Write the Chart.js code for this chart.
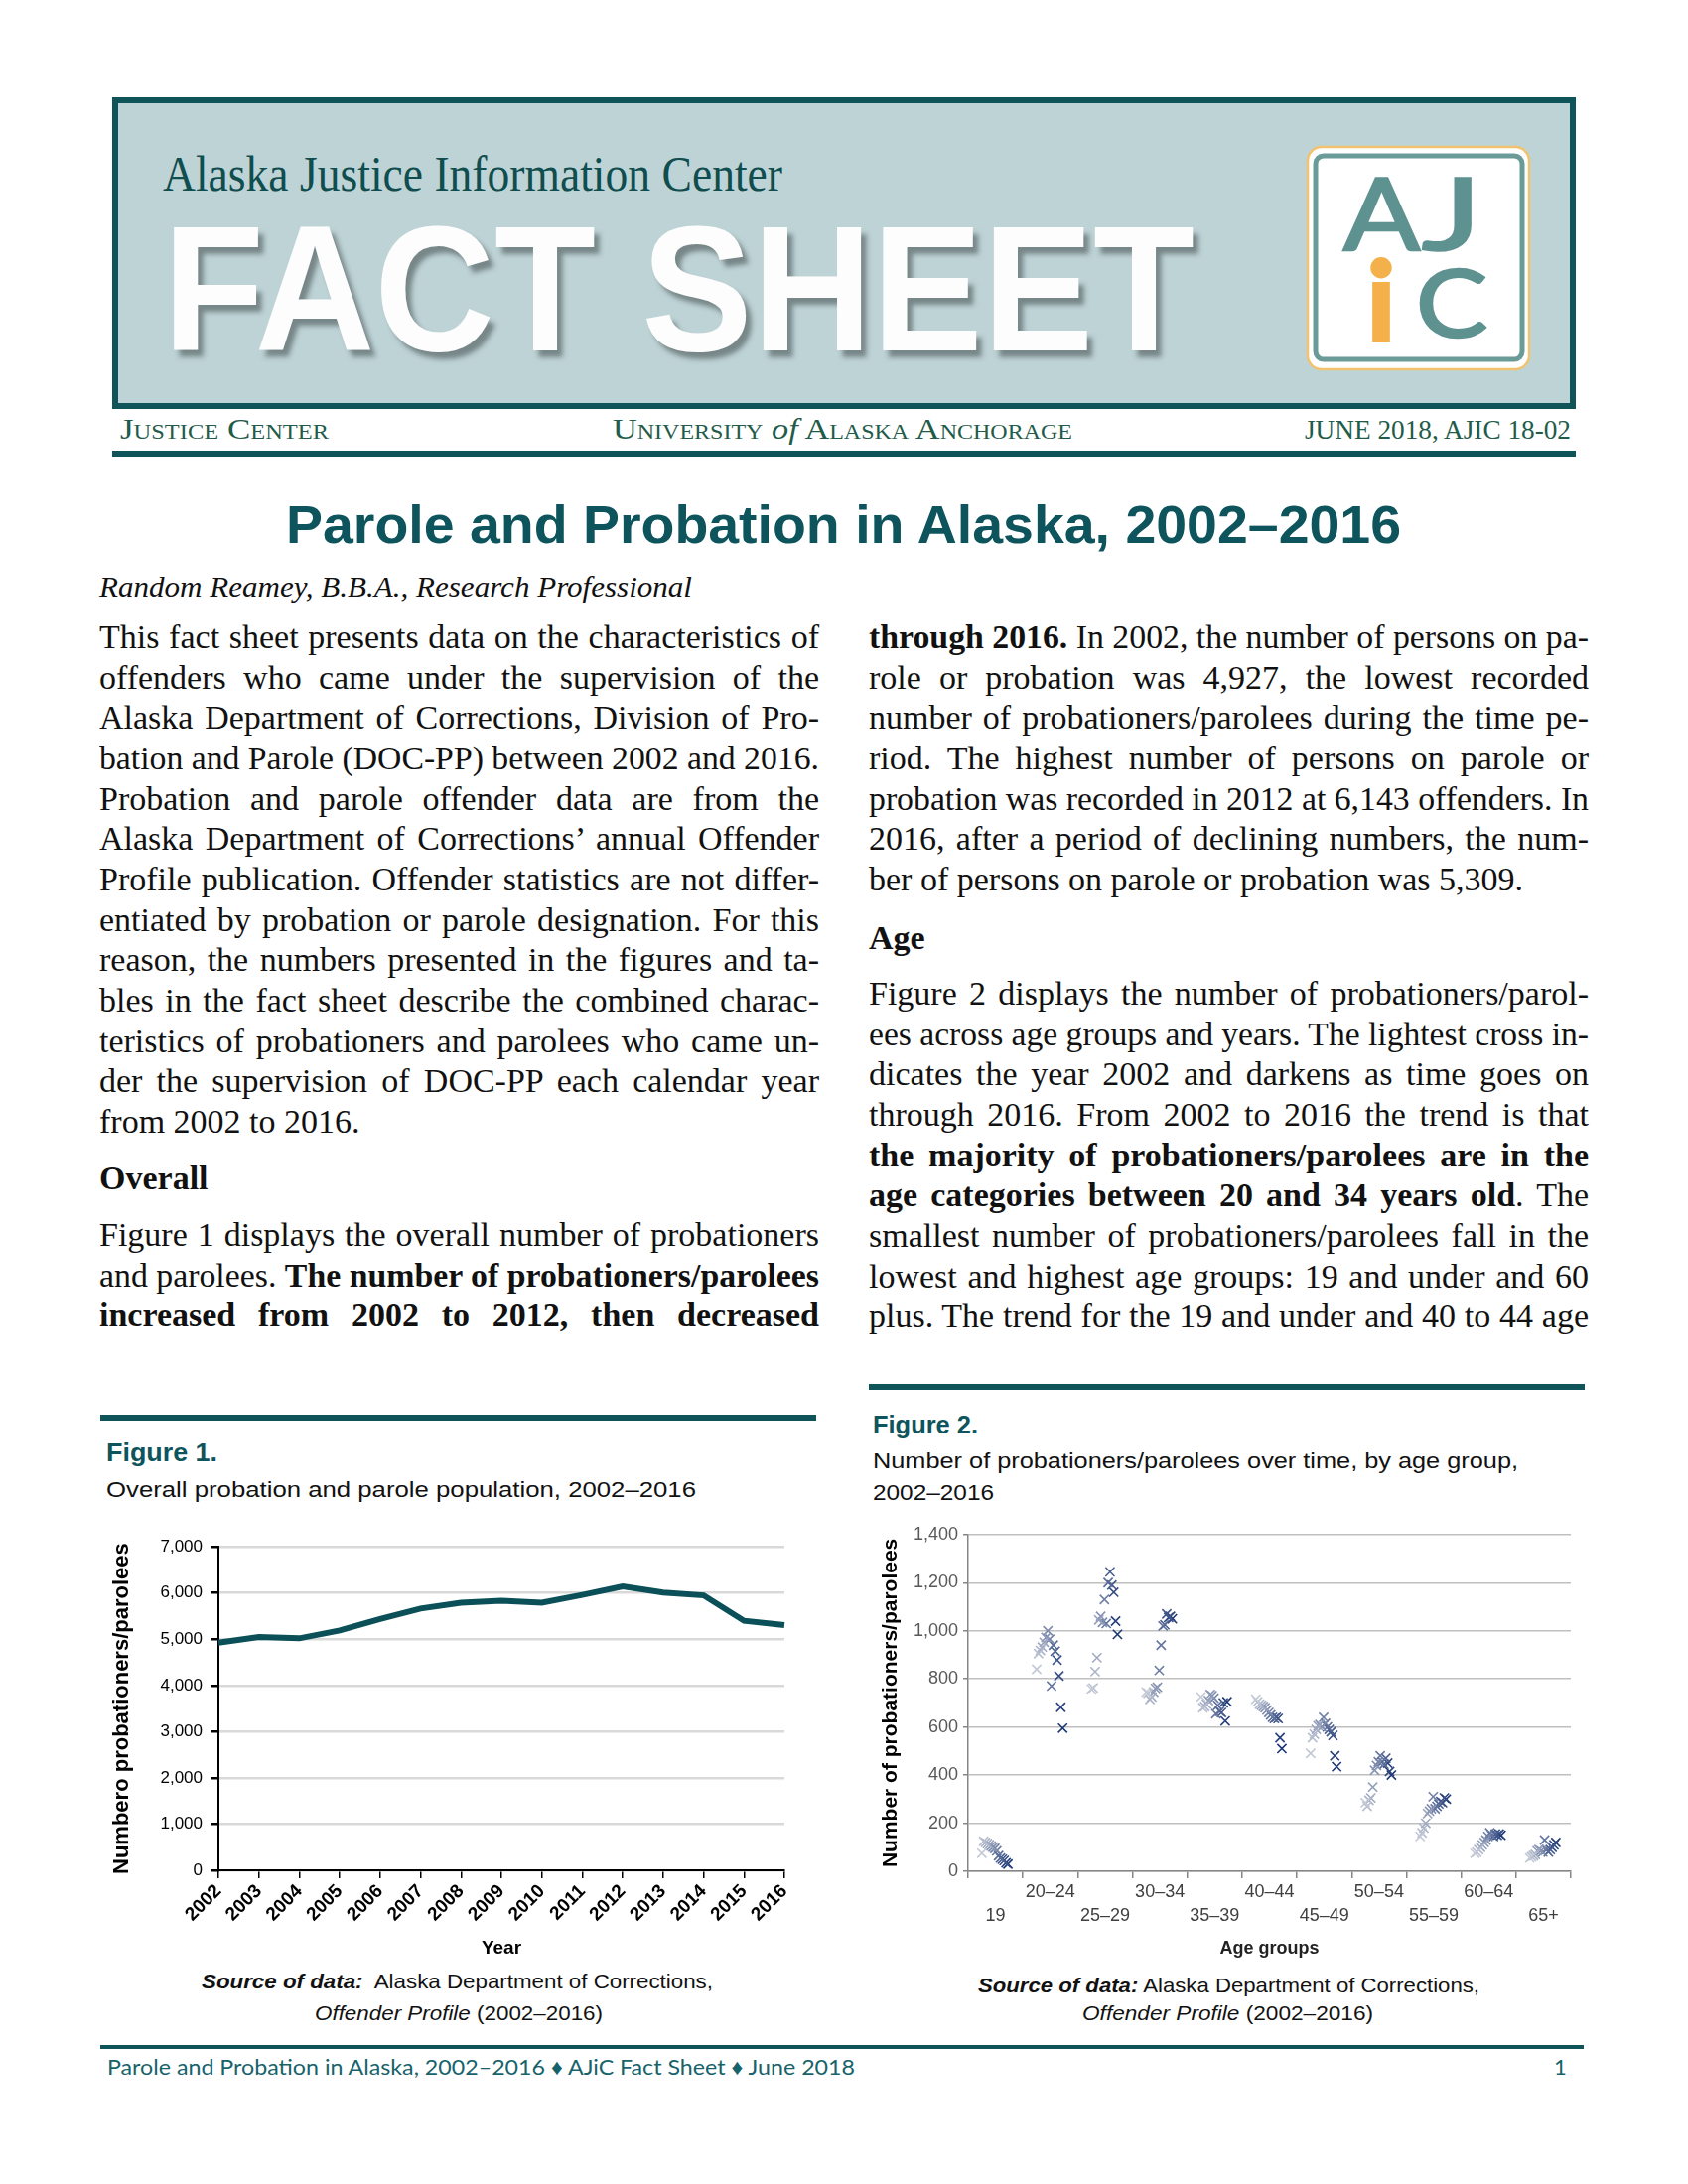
<!DOCTYPE html>
<html>
<head>
<meta charset="utf-8">
<script src="https://cdn.jsdelivr.net/npm/chart.js@4.4.1/dist/chart.umd.min.js"></script>
<style>
html, body { margin: 0; padding: 0; background: #fff; }
body { width: 1700px; height: 2200px; position: relative; overflow: hidden; font-family: 'Liberation Sans', Arial, sans-serif; }
.a { position: absolute; white-space: nowrap; line-height: 1; transform-origin: left center; }
.serif { font-family: 'Liberation Serif', 'Times New Roman', serif; }
.teal { color: #0e545c; }
.line { position: absolute; white-space: nowrap; font-family: 'Liberation Serif', serif; font-size: 34px; line-height: 40.68px; color: #111; }
.line span { transform-origin: left center; }
.rule { position: absolute; background: #0f5459; }
canvas { position: absolute; }
</style>
</head>
<body>

<!-- header -->
<div style="position:absolute;left:113px;top:98px;width:1474px;height:314px;box-sizing:border-box;border:6px solid #0f5459;background:#bed3d6"></div>
<div class="a serif" style="left:164px;top:150px;font-size:50px;color:#0f4d4f" data-w="624">Alaska Justice Information Center</div>
<div class="a" style="left:164px;top:201px;font-size:180px;font-weight:bold;color:#fdfdfd;text-shadow:6px 7px 5px rgba(50,60,60,0.5)" data-w="1039">FACT SHEET</div>
<svg style="position:absolute;left:1310px;top:140px" width="240" height="240" viewBox="0 0 240 240">
  <rect x="7" y="8" width="223" height="224" rx="14" fill="#fff" stroke="#f2c36e" stroke-width="2.5"/>
  <rect x="15" y="17" width="208" height="205" rx="8" fill="none" stroke="#6a9b98" stroke-width="5"/>
  <g font-family="Lato, 'Open Sans', sans-serif" fill="#5e9290" stroke="#5e9290" stroke-width="2.5">
    <text x="43" y="112" font-size="100" textLength="77" lengthAdjust="spacingAndGlyphs">A</text>
    <text x="122" y="112" font-size="100" textLength="60" lengthAdjust="spacingAndGlyphs">J</text>
    <text x="116" y="199" font-size="94" textLength="72" lengthAdjust="spacingAndGlyphs">C</text>
  </g>
  <text x="67" y="204" font-family="Lato, 'Open Sans', sans-serif" font-weight="bold" font-size="112" fill="#f4b04a" stroke="#f4b04a" stroke-width="4" textLength="28" lengthAdjust="spacingAndGlyphs">i</text>
</svg>
<div class="a serif" style="left:121px;top:417px;font-size:30px;font-variant:small-caps;color:#1f5c4a" data-w="210">Justice Center</div>
<div class="a serif" style="left:617px;top:417px;font-size:30px;font-variant:small-caps;color:#1f5c4a" data-w="463">University <i style="font-variant:normal">of</i> Alaska Anchorage</div>
<div class="a serif" style="left:1314px;top:419px;font-size:28px;color:#1f5c4a" data-w="268">JUNE 2018, AJIC 18-02</div>
<div class="rule" style="left:113px;top:454px;width:1474px;height:6px"></div>

<!-- title -->
<div class="a teal" style="left:288px;top:501px;font-size:54px;font-weight:bold" data-w="1123">Parole and Probation in Alaska, 2002–2016</div>
<div class="a serif" style="left:100px;top:576px;font-size:30px;font-style:italic;color:#111" data-w="597">Random Reamey, B.B.A., Research Professional</div>

<!-- figure 1 -->
<div class="rule" style="left:101px;top:1425px;width:721px;height:6px"></div>
<div class="a teal" style="left:107px;top:1451px;font-size:25px;font-weight:bold" data-w="112">Figure 1.</div>
<div class="a" style="left:107px;top:1490px;font-size:22px;color:#111" data-w="594">Overall probation and parole population, 2002–2016</div>
<canvas id="fig1" width="720" height="438" style="left:100px;top:1540px;width:720px;height:438px"></canvas>
<div class="a" style="left:203px;top:1985px;font-size:21px;color:#111" data-w="515"><b><i>Source of data:</i></b>&nbsp; Alaska Department of Corrections,</div>
<div class="a" style="left:317px;top:2017px;font-size:21px;color:#111" data-w="290"><i>Offender Profile</i> (2002–2016)</div>

<!-- figure 2 -->
<div class="rule" style="left:875px;top:1394px;width:721px;height:6px"></div>
<div class="a teal" style="left:879px;top:1423px;font-size:25px;font-weight:bold" data-w="106">Figure 2.</div>
<div class="a" style="left:879px;top:1461px;font-size:22px;color:#111" data-w="650">Number of probationers/parolees over time, by age group,</div>
<div class="a" style="left:879px;top:1493px;font-size:22px;color:#111" data-w="122">2002–2016</div>
<canvas id="fig2" width="725" height="448" style="left:870px;top:1530px;width:725px;height:448px"></canvas>
<div class="a" style="left:985px;top:1989px;font-size:21px;color:#111" data-w="505"><b><i>Source of data:</i></b> Alaska Department of Corrections,</div>
<div class="a" style="left:1090px;top:2017px;font-size:21px;color:#111" data-w="293"><i>Offender Profile</i> (2002–2016)</div>

<!-- footer -->
<div class="rule" style="left:101px;top:2060px;width:1494px;height:4px"></div>
<div class="a" style="left:108px;top:2071px;font-size:22px;font-family:Lato,sans-serif;color:#17636b" data-w="753">Parole and Probation in Alaska, 2002–2016 ♦ AJiC Fact Sheet ♦ June 2018</div>
<div class="a" style="left:1565px;top:2071px;font-size:22px;font-family:Lato,sans-serif;color:#17636b">1</div>

<script>
// ---- chart data ----
const years = [2002, 2003, 2004, 2005, 2006, 2007, 2008, 2009, 2010, 2011, 2012, 2013, 2014, 2015, 2016];
const population = [4927, 5050, 5020, 5190, 5440, 5665, 5790, 5835, 5790, 5960, 6143, 6010, 5950, 5400, 5309];
const popTicks = [0, 1000, 2000, 3000, 4000, 5000, 6000, 7000];

const ageGroups = ['19', '20–24', '25–29', '30–34', '35–39', '40–44', '45–49', '50–54', '55–59', '60–64', '65+'];
// one value per year, 2002 -> 2016
const age19 = [75, 125, 120, 115, 110, 105, 100, 95, 85, 65, 55, 50, 45, 35, 30];
const age20_24 = [840, 905, 918, 932, 952, 972, 1000, 965, 770, 940, 915, 878, 812, 682, 595];
const age25_29 = [758, 762, 830, 888, 1045, 1060, 1035, 1130, 1030, 1200, 1245, 1190, 1160, 1040, 985];
const age30_34 = [745, 740, 715, 725, 745, 760, 765, 835, 940, 1020, 1025, 1070, 1055, 1060, 1050];
const age35_39 = [725, 680, 685, 695, 710, 735, 730, 720, 655, 690, 665, 660, 700, 625, 705];
const age40_44 = [715, 705, 695, 690, 685, 680, 670, 660, 650, 640, 635, 640, 635, 555, 510];
const age45_49 = [490, 555, 570, 590, 605, 610, 600, 640, 615, 600, 590, 580, 565, 480, 435];
const age50_54 = [285, 270, 295, 305, 350, 420, 440, 455, 480, 455, 445, 470, 450, 415, 400];
const age55_59 = [145, 160, 180, 200, 240, 250, 260, 310, 260, 270, 280, 290, 285, 305, 300];
const age60_64 = [75, 80, 90, 100, 110, 120, 130, 145, 160, 150, 145, 155, 150, 155, 150];
const age65plus = [55, 60, 65, 70, 85, 90, 85, 80, 130, 90, 80, 90, 100, 110, 120];
const countsByGroup = [age19, age20_24, age25_29, age30_34, age35_39, age40_44, age45_49, age50_54, age55_59, age60_64, age65plus];
const ageTicks = [0, 200, 400, 600, 800, 1000, 1200, 1400];

// ---- body text ----
const COLW = 725;
const LH = 40.68;
const leftA = [
  'This fact sheet presents data on the characteristics of',
  'offenders who came under the supervision of the',
  'Alaska Department of Corrections, Division of Pro-',
  'bation and Parole (DOC-PP) between 2002 and 2016.',
  'Probation and parole offender data are from the',
  'Alaska Department of Corrections’ annual Offender',
  'Profile publication. Offender statistics are not differ-',
  'entiated by probation or parole designation. For this',
  'reason, the numbers presented in the figures and ta-',
  'bles in the fact sheet describe the combined charac-',
  'teristics of probationers and parolees who came un-',
  'der the supervision of DOC-PP each calendar year',
  'from 2002 to 2016.'
];
const leftB = [
  'Figure 1 displays the overall number of probationers',
  'and parolees. <b>The number of probationers/parolees</b>',
  '<b>increased from 2002 to 2012, then decreased</b>'
];
const rightC = [
  '<b>through 2016.</b> In 2002, the number of persons on pa-',
  'role or probation was 4,927, the lowest recorded',
  'number of probationers/parolees during the time pe-',
  'riod. The highest number of persons on parole or',
  'probation was recorded in 2012 at 6,143 offenders. In',
  '2016, after a period of declining numbers, the num-',
  'ber of persons on parole or probation was 5,309.'
];
const rightD = [
  'Figure 2 displays the number of probationers/parol-',
  'ees across age groups and years. The lightest cross in-',
  'dicates the year 2002 and darkens as time goes on',
  'through 2016. From 2002 to 2016 the trend is that',
  '<b>the majority of probationers/parolees are in the</b>',
  '<b>age categories between 20 and 34 years old</b>. The',
  'smallest number of probationers/parolees fall in the',
  'lowest and highest age groups: 19 and under and 60',
  'plus. The trend for the 19 and under and 40 to 44 age'
];

function block(lines, left, top, lastLeft) {
  lines.forEach((html, i) => {
    const d = document.createElement('div');
    d.className = 'line';
    d.style.left = left + 'px';
    d.style.top = (top + i * LH) + 'px';
    d.innerHTML = '<span>' + html + '</span>';
    document.body.appendChild(d);
    const sp = d.firstChild;
    const nat = sp.getBoundingClientRect().width;
    const isLast = lastLeft && i === lines.length - 1;
    if (nat > COLW) {
      sp.style.display = 'inline-block';
      sp.style.transform = 'scaleX(' + (COLW / nat) + ')';
    } else if (!isLast) {
      const n = (sp.textContent.match(/ /g) || []).length;
      if (n) sp.style.wordSpacing = ((COLW - nat) / n) + 'px';
    }
  });
}
function heading(text, left, top) {
  const d = document.createElement('div');
  d.className = 'line';
  d.style.left = left + 'px';
  d.style.top = top + 'px';
  d.innerHTML = '<b>' + text + '</b>';
  document.body.appendChild(d);
}

block(leftA, 100, 622, true);
heading('Overall', 100, 1167);
block(leftB, 100, 1224, false);
block(rightC, 875, 622, true);
heading('Age', 875, 925);
block(rightD, 875, 981, false);

// stretch single text lines to the widths in the reference
document.querySelectorAll('[data-w]').forEach(el => {
  const w = el.getBoundingClientRect().width;
  el.style.transform = 'scaleX(' + (el.dataset.w / w) + ')';
});

// ---- charts ----
Chart.defaults.font.family = "'Liberation Sans', Arial, sans-serif";
Chart.defaults.color = '#000';

new Chart(document.getElementById('fig1'), {
  type: 'line',
  data: {
    labels: years,
    datasets: [{
      data: population,
      borderColor: '#0b5058',
      borderWidth: 6,
      pointRadius: 0,
      tension: 0,
      fill: false
    }]
  },
  options: {
    responsive: false,
    animation: false,
    devicePixelRatio: 1,
    layout: { padding: { top: 14, right: 30, left: 6, bottom: 0 } },
    plugins: { legend: { display: false }, tooltip: { enabled: false } },
    scales: {
      x: {
        offset: false,
        grid: { drawOnChartArea: false, tickColor: '#000', tickLength: 8, lineWidth: 1.5 },
        border: { color: '#000', width: 2 },
        ticks: { autoSkip: false, minRotation: 45, maxRotation: 45, padding: 2, color: '#000',
                 font: { size: 19, weight: 'bold' } },
        title: { display: true, text: 'Year', color: '#000', font: { size: 19, weight: 'bold' }, padding: { top: 0, bottom: 4 } },
        afterFit: s => { s.height = 94; }
      },
      y: {
        min: 0, max: 7000,
        afterBuildTicks: axis => { axis.ticks = popTicks.map(v => ({ value: v })); },
        ticks: { callback: v => v.toLocaleString('en-US'), padding: 8, color: '#000', font: { size: 17 } },
        grid: { color: '#d9d9d9', lineWidth: 2.5, tickColor: '#000', tickLength: 8 },
        border: { color: '#000', width: 2 },
        title: { display: true, text: 'Numbero probationers/parolees', color: '#000', font: { size: 22, weight: 'bold' } },
        afterFit: s => { s.width = 114; }
      }
    }
  }
});

function yearColor(k) {
  const t = k / (years.length - 1);
  const c0 = [196, 201, 214], c1 = [30, 56, 118];
  const c = c0.map((v, i) => Math.round(v + (c1[i] - v) * t));
  return 'rgb(' + c.join(',') + ')';
}

const scatterSets = years.map((yr, k) => ({
  label: String(yr),
  data: ageGroups.map((g, gi) => ({ x: gi + 0.25 + k * 0.034, y: countsByGroup[gi][k] })),
  pointStyle: 'crossRot',
  pointRadius: 6.5,
  pointBorderWidth: 1.6,
  borderColor: yearColor(k),
  backgroundColor: yearColor(k),
  showLine: false
}));

new Chart(document.getElementById('fig2'), {
  type: 'scatter',
  data: { datasets: scatterSets },
  options: {
    responsive: false,
    animation: false,
    devicePixelRatio: 1,
    layout: { padding: { top: 13, right: 13, left: 11, bottom: 0 } },
    plugins: { legend: { display: false }, tooltip: { enabled: false } },
    scales: {
      x: {
        type: 'linear', min: 0, max: ageGroups.length,
        ticks: {
          stepSize: 1, autoSkip: false, maxRotation: 0, labelOffset: 27.6, padding: 3,
          color: '#404040', font: { size: 18, lineHeight: 1.28 },
          callback: (v, i) => i < ageGroups.length ? (i % 2 ? [ageGroups[i], ''] : ['', ageGroups[i]]) : ''
        },
        grid: { drawOnChartArea: false, color: '#868686', tickLength: 7, lineWidth: 1.5 },
        border: { color: '#868686', width: 1.5 },
        title: { display: true, text: 'Age groups', color: '#222', font: { size: 18, weight: 'bold' }, padding: { top: 0, bottom: 4 } },
        afterFit: s => { s.height = 93; }
      },
      y: {
        min: 0, max: 1400,
        afterBuildTicks: axis => { axis.ticks = ageTicks.map(v => ({ value: v })); },
        ticks: { callback: v => v.toLocaleString('en-US'), padding: 5, color: '#595959', font: { size: 18 } },
        grid: { color: '#bfbfbf', lineWidth: 1.5, tickColor: '#868686', tickLength: 5 },
        border: { color: '#868686', width: 1.5 },
        title: { display: true, text: 'Number of probationers/parolees', color: '#000', font: { size: 21, weight: 'bold' } },
        afterFit: s => { s.width = 94; }
      }
    }
  }
});
</script>
</body>
</html>
